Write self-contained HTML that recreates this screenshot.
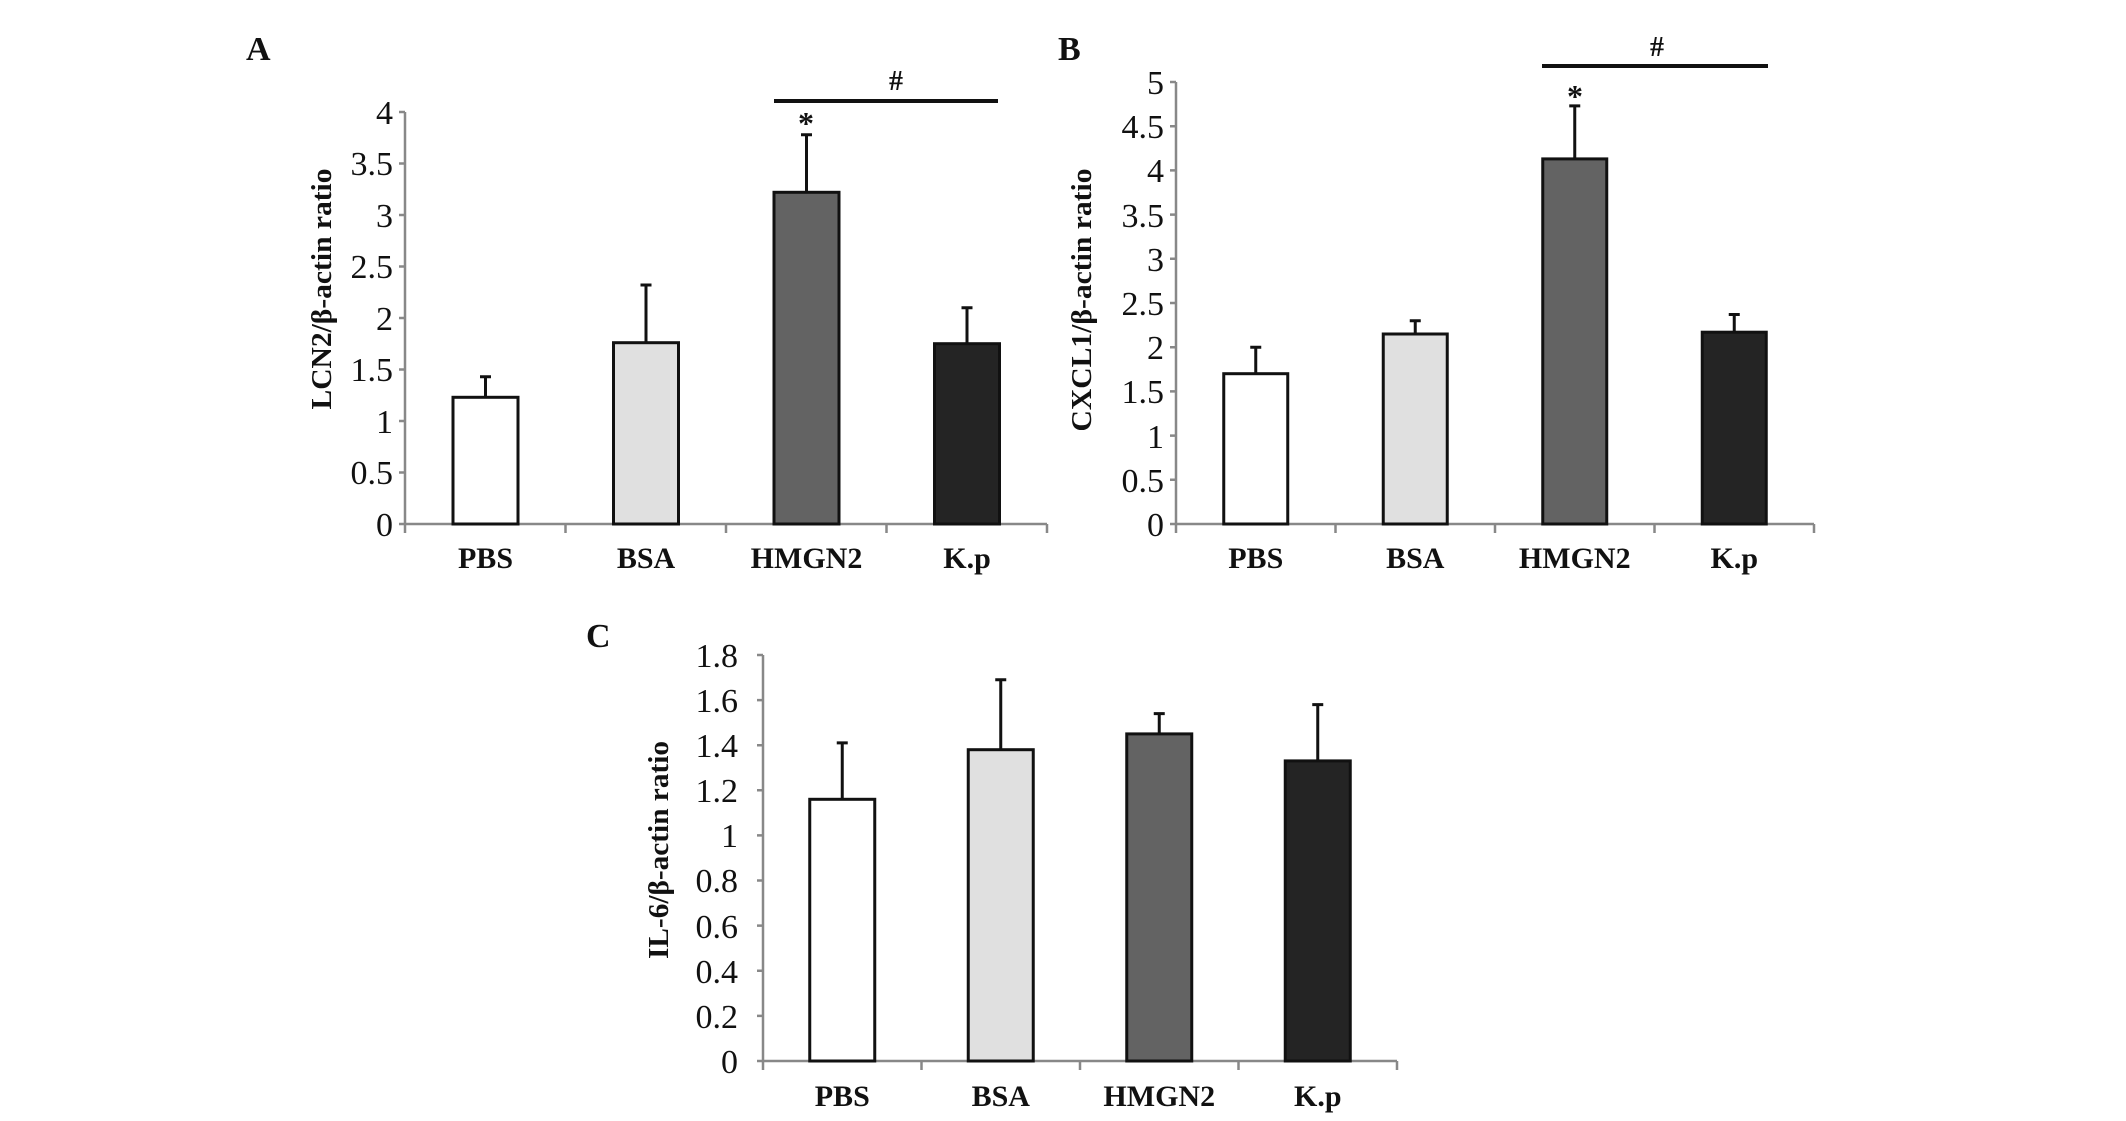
<!DOCTYPE html>
<html><head><meta charset="utf-8"><style>
html,body{margin:0;padding:0;background:#fff}
svg{display:block}
text{font-family:"Liberation Serif",serif;fill:#111}
.t{font-size:34px;text-anchor:end}
.x{font-size:30px;font-weight:bold;text-anchor:middle}
.yl{font-size:28px;font-weight:bold;text-anchor:middle}
.L{font-size:34px;font-weight:bold}
.ax{stroke:#888;stroke-width:2.5;fill:none}
.bar{stroke:#111;stroke-width:3}
.e{stroke:#111;stroke-width:3;fill:none}
</style></head><body>
<svg width="2126" height="1121" viewBox="0 0 2126 1121" xmlns="http://www.w3.org/2000/svg">
<!-- Panel A -->
<text class="L" x="246" y="60">A</text>
<text class="yl" transform="translate(331,289) rotate(-90)" textLength="241" lengthAdjust="spacingAndGlyphs">LCN2/β-actin ratio</text>
<path class="ax" d="M405,112V524H1047M399,524H405M399,472.5H405M399,421H405M399,369.5H405M399,318H405M399,266.5H405M399,215H405M399,163.5H405M399,112H405M405,524V533M565.5,524V533M726,524V533M886.5,524V533M1047,524V533"/>
<g class="t"><text x="393" y="536">0</text><text x="393" y="484">0.5</text><text x="393" y="433">1</text><text x="393" y="381">1.5</text><text x="393" y="330">2</text><text x="393" y="278">2.5</text><text x="393" y="227">3</text><text x="393" y="175">3.5</text><text x="393" y="124">4</text></g>
<rect class="bar" x="453" y="397.3" width="65" height="126.7" fill="#fff"/>
<rect class="bar" x="613.5" y="342.7" width="65" height="181.3" fill="#e0e0e0"/>
<rect class="bar" x="774" y="192.3" width="65" height="331.7" fill="#636363"/>
<rect class="bar" x="934.5" y="343.7" width="65" height="180.3" fill="#242424"/>
<path class="e" d="M485.5,397V376.7M480,376.7H491M646,342.7V285M640.5,285H651.5M806.5,192V134.7M801,134.7H812M967,343.7V307.7M961.5,307.7H972.5"/>
<line x1="774" y1="101" x2="998" y2="101" stroke="#111" stroke-width="4"/>
<text x="896" y="90" style="font-size:28px;font-weight:bold;text-anchor:middle">#</text>
<text x="806" y="134" style="font-size:32px;font-weight:bold;text-anchor:middle">*</text>
<g class="x"><text x="485.5" y="568">PBS</text><text x="646" y="568">BSA</text><text x="806.5" y="568">HMGN2</text><text x="967" y="568">K.p</text></g>

<!-- Panel B -->
<text class="L" x="1058" y="60">B</text>
<text class="yl" transform="translate(1091,300) rotate(-90)" textLength="263" lengthAdjust="spacingAndGlyphs">CXCL1/β-actin ratio</text>
<path class="ax" d="M1176,82V524H1814M1170,524H1176M1170,479.8H1176M1170,435.6H1176M1170,391.4H1176M1170,347.2H1176M1170,303H1176M1170,258.8H1176M1170,214.6H1176M1170,170.4H1176M1170,126.2H1176M1170,82H1176M1176,524V533M1335.5,524V533M1495,524V533M1654.5,524V533M1814,524V533"/>
<g class="t"><text x="1164" y="536">0</text><text x="1164" y="492">0.5</text><text x="1164" y="448">1</text><text x="1164" y="403">1.5</text><text x="1164" y="359">2</text><text x="1164" y="315">2.5</text><text x="1164" y="271">3</text><text x="1164" y="227">3.5</text><text x="1164" y="182">4</text><text x="1164" y="138">4.5</text><text x="1164" y="94">5</text></g>
<rect class="bar" x="1223.75" y="373.7" width="64" height="150.3" fill="#fff"/>
<rect class="bar" x="1383.25" y="334" width="64" height="190" fill="#e0e0e0"/>
<rect class="bar" x="1542.75" y="158.9" width="64" height="365.1" fill="#636363"/>
<rect class="bar" x="1702.25" y="332.2" width="64" height="191.8" fill="#242424"/>
<path class="e" d="M1255.75,373.7V347.2M1250.25,347.2H1261.25M1415.25,334V320.7M1409.75,320.7H1420.75M1574.75,159V105.9M1569.25,105.9H1580.25M1734.25,332V314.5M1728.75,314.5H1739.75"/>
<line x1="1542" y1="66" x2="1768" y2="66" stroke="#111" stroke-width="4"/>
<text x="1657" y="56" style="font-size:28px;font-weight:bold;text-anchor:middle">#</text>
<text x="1575" y="107" style="font-size:32px;font-weight:bold;text-anchor:middle">*</text>
<g class="x"><text x="1255.75" y="568">PBS</text><text x="1415.25" y="568">BSA</text><text x="1574.75" y="568">HMGN2</text><text x="1734.25" y="568">K.p</text></g>

<!-- Panel C -->
<text class="L" x="586" y="647">C</text>
<text class="yl" transform="translate(668,850) rotate(-90)" textLength="218" lengthAdjust="spacingAndGlyphs">IL-6/β-actin ratio</text>
<path class="ax" d="M763,655V1061H1397M757,1061H763M757,1015.9H763M757,970.8H763M757,925.6H763M757,880.5H763M757,835.4H763M757,790.3H763M757,745.2H763M757,700.1H763M757,655H763M763,1061V1070M921.5,1061V1070M1080,1061V1070M1238.5,1061V1070M1397,1061V1070"/>
<g class="t"><text x="738" y="1073">0</text><text x="738" y="1028">0.2</text><text x="738" y="983">0.4</text><text x="738" y="938">0.6</text><text x="738" y="892">0.8</text><text x="738" y="847">1</text><text x="738" y="802">1.2</text><text x="738" y="757">1.4</text><text x="738" y="712">1.6</text><text x="738" y="667">1.8</text></g>
<rect class="bar" x="809.75" y="799.3" width="65" height="261.7" fill="#fff"/>
<rect class="bar" x="968.25" y="749.7" width="65" height="311.3" fill="#e0e0e0"/>
<rect class="bar" x="1126.75" y="733.9" width="65" height="327.1" fill="#636363"/>
<rect class="bar" x="1285.25" y="760.9" width="65" height="300.1" fill="#242424"/>
<path class="e" d="M842.25,799.3V742.9M836.75,742.9H847.75M1000.75,749.7V679.7M995.25,679.7H1006.25M1159.25,734V713.6M1153.75,713.6H1164.75M1317.75,761V704.6M1312.25,704.6H1323.25"/>
<g class="x"><text x="842.25" y="1106">PBS</text><text x="1000.75" y="1106">BSA</text><text x="1159.25" y="1106">HMGN2</text><text x="1317.75" y="1106">K.p</text></g>
</svg>
</body></html>
